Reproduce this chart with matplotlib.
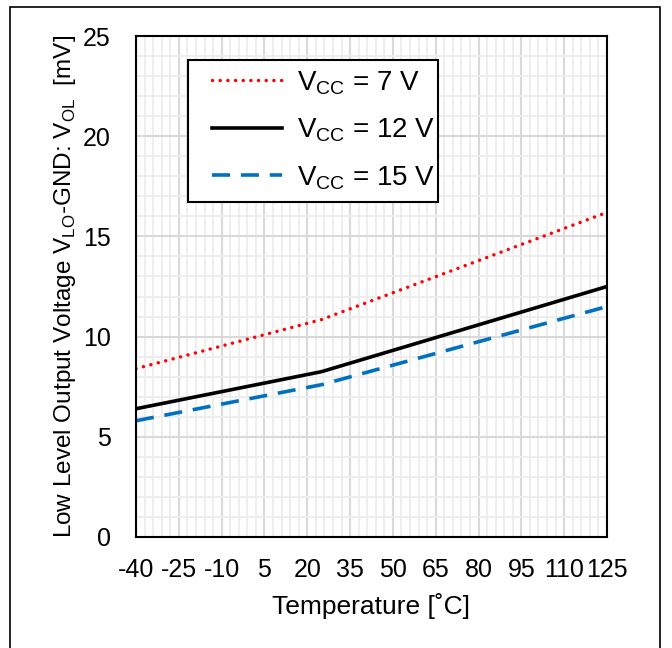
#!/bin/py
#
# low level output voltage vs temperature
#
import numpy as np
import matplotlib
matplotlib.use('Agg')
import matplotlib.pyplot as plt
from matplotlib.patches import Rectangle

plt.rcParams['font.family'] = ['Liberation Sans', 'DejaVu Sans']
plt.rcParams['mathtext.fontset'] = 'custom'
plt.rcParams['mathtext.rm'] = 'Liberation Sans'
plt.rcParams['axes.unicode_minus'] = False

#
# data
#
temp_c  = [-40, 25, 125]
vol_7v  = [8.4, 10.85, 16.2]
vol_12v = [6.4, 8.25, 12.5]
vol_15v = [5.8, 7.6, 11.5]

labels = [r'V$_\mathregular{CC}$ = 7 V',
          r'V$_\mathregular{CC}$ = 12 V',
          r'V$_\mathregular{CC}$ = 15 V']

xticks = np.arange(-40, 126, 15)
yticks = np.arange(0, 26, 5)


def main():

    fig = plt.figure(figsize=(6.72, 6.48), dpi=100)
    ax = fig.add_axes([136/672., 1-537/648., 471/672., 501/648.])

    #
    # grid
    #
    ax.set_xticks(xticks)
    ax.set_xticks(np.arange(-40, 126, 3), minor=True)
    ax.set_yticks(yticks)
    ax.set_yticks(np.arange(0, 26, 1), minor=True)
    ax.grid(which='minor', color='#ededed', lw=1.3)
    ax.grid(which='major', color='#d9d9d9', lw=1.5)
    ax.set_axisbelow(True)

    #
    # curves
    #
    ax.plot(temp_c, vol_7v, color='#ff0000', lw=2.5,
            linestyle=(0, (0.01, 2.2)), dash_capstyle='round', label=labels[0])
    ax.plot(temp_c, vol_12v, color='black', lw=2.6, label=labels[1])
    ax.plot(temp_c, vol_15v, color='#0070c0', lw=2.6,
            linestyle=(0, (5, 3)), label=labels[2])

    ax.set_xlim(-40, 125)
    ax.set_ylim(0, 25)

    for s in ax.spines.values():
        s.set_linewidth(1.5)
        s.set_color('black')
    ax.tick_params(which='both', length=0, labelsize=18)
    ax.tick_params(axis='y', pad=18)
    ax.tick_params(axis='x', pad=15)

    ax.set_xlabel('Temperature [˚C]', fontsize=19, labelpad=8)
    ax.set_ylabel(r'Low Level Output Voltage V$_\mathregular{LO}$-GND: V$_\mathregular{OL}$  [mV]',
                  fontsize=17.5, labelpad=4)

    #
    # legend box drawn separately, legend itself unframed
    #
    box = Rectangle((52/471., 335/501.), 250/471., 142/501.,
                    transform=ax.transAxes, facecolor='white',
                    edgecolor='black', lw=1.5, zorder=4)
    ax.add_patch(box)
    leg = ax.legend(loc='upper left', bbox_to_anchor=(76/471., 468/501.),
                    fontsize=20, frameon=False, borderaxespad=0,
                    handlelength=2.52, handletextpad=0.54, labelspacing=0.71,
                    borderpad=0)
    leg.set_zorder(5)

    #
    # outer frame
    #
    fig.patches.append(Rectangle((10/672., -0.02), 650/672., 1.02-7/648.,
                                 transform=fig.transFigure, fill=False,
                                 edgecolor='black', lw=1.2))

    plt.savefig('out.png', dpi=100)


main()
